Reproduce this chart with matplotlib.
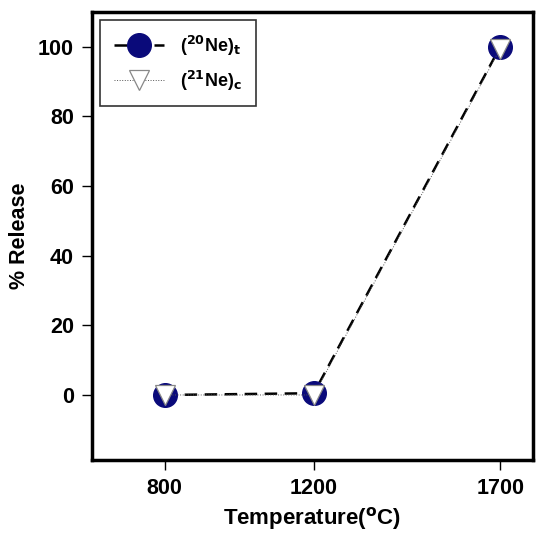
import matplotlib.pyplot as plt

plt.rcParams['font.family'] = ['Liberation Sans', 'DejaVu Sans']
plt.rcParams['font.weight'] = 'bold'

temps = [800, 1200, 1700]
ne20_t = [0, 0.5, 100]
ne21_c = [0, 0, 99.5]

fig = plt.figure(figsize=(5.36, 5.40), dpi=100)
ax = fig.add_axes([0.1716, 0.148, 0.8228, 0.8298])

ax.plot(temps, ne20_t, color='black', linestyle=(0, (5, 3)), linewidth=1.8,
        marker='o', markersize=17, markerfacecolor='#0a0a7a', markeredgecolor='#0a0a7a',
        label=r'($^{20}$Ne)$_\mathbf{t}$')
ax.plot(temps, ne21_c, color='#555555', linestyle=':', linewidth=0.7,
        marker='v', markersize=15, markerfacecolor='white', markeredgecolor='#888888',
        markeredgewidth=0.9, label=r'($^{21}$Ne)$_\mathbf{c}$')

ax.set_xlim(605, 1788)
ax.set_ylim(-18.7, 110)
ax.set_xticks(temps)
ax.set_yticks([0, 20, 40, 60, 80, 100])
ax.tick_params(direction='out', length=7, width=1, labelsize=15.5, pad=6)
for s in ax.spines.values():
    s.set_linewidth(2.5)

ax.set_xlabel(r'Temperature($^\mathbf{o}$C)', fontsize=16, fontweight='bold', labelpad=4)
ax.set_ylabel('% Release', fontsize=15.5, fontweight='bold', labelpad=6)

leg = ax.legend(loc='upper left', fontsize=13, frameon=True, fancybox=False,
                edgecolor='black', handlelength=2.8, borderpad=0.75, labelspacing=0.6,
                borderaxespad=0.45, handletextpad=0.9)
leg.get_frame().set_linewidth(1.2)

fig.savefig('out.png', dpi=100)
